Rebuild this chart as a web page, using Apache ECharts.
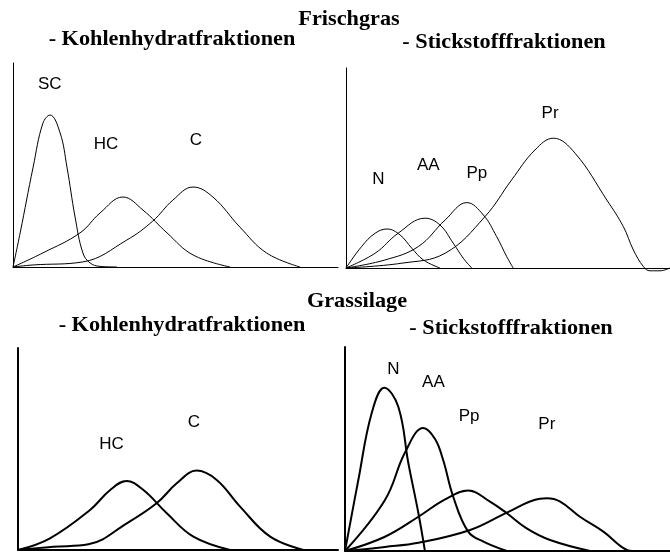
<!DOCTYPE html>
<html>
<head>
<meta charset="utf-8">
<script src="https://cdn.jsdelivr.net/npm/echarts@6/dist/echarts.min.js"></script>
<style>
  html, body { margin: 0; padding: 0; background: #fff; }
  #chart { width: 670px; height: 554px; }
</style>
</head>
<body>
<div id="chart"></div>
<script>
'use strict';

// Frischgras - Kohlenhydratfraktionen (x: time units 0-100, y: relative amount 0-100)
const fgSC = [[0,0],[2.2,16.7],[6.2,49],[9.2,70.5],[11.4,74.5],[14.5,65.7],[16.6,49],[19.1,24.5],[21.5,6.9],[23.7,2],[26.8,0.3],[32,0]];
const fgHC = [[0,0],[9.2,6.9],[20.6,16.7],[26.8,26.5],[33.8,34.3],[40,27.9],[47.4,16.7],[55.4,5.9],[66.8,0]];
const fgC = [[0,0],[6.2,1],[21.5,2.5],[35,13.2],[43,22.5],[49.2,32.8],[55.4,39.2],[61.5,34.3],[69.8,19.6],[78,6.9],[88.3,0]];

// Frischgras - Stickstofffraktionen
const fgN = [[0,0],[4.8,10.7],[9,17.4],[12.7,19.5],[16.7,16.5],[20.3,9.9],[23.9,4],[29,0]];
const fgAA = [[0,0],[9,7.4],[16.1,17.4],[24.4,24.9],[29,21.5],[33.1,12.4],[36.2,4.9],[38.8,0]];
const fgPp = [[0,0],[12,4],[22.3,10.7],[30.6,24],[37.3,32.7],[42.4,26.5],[46.5,15.7],[49.6,5.7],[51.6,0]];
const fgPr = [[0,0],[17.2,2.4],[30.6,7.4],[42.9,25.7],[51.1,44],[58.3,59],[64,64.9],[70.7,57.4],[80.5,34],[85.6,20.7],[88.7,9],[91.8,0.7],[93.8,-1.4],[96.9,-1.4],[100,0]];

// Grassilage - Kohlenhydratfraktionen
const gsHC = [[0,0],[10,5.8],[22.5,19.8],[28.8,29.7],[33.9,34.2],[39.2,29.7],[46.5,18.2],[54.8,6.6],[66.3,0]];
const gsC = [[0,0],[11,1.6],[22,2.8],[34,13.2],[43.3,23.1],[49.6,33],[55.8,39.3],[62.1,34.7],[69.4,21.5],[78.8,6.6],[89.2,0]];

// Grassilage - Stickstofffraktionen
const gsN = [[0,0],[4.1,34.8],[8.2,67.5],[12.1,80],[16.4,70.7],[19.5,43],[22.6,18.4],[24.6,0]];
const gsAA = [[0,0],[12.3,25],[18.5,48.4],[24.1,60.3],[27.7,54.9],[30.2,44.6],[33.3,26.6],[37.9,9.5],[42.6,4.6],[49.8,0]];
const gsPp = [[0,0],[12.3,7],[22.6,16.8],[30.8,25.3],[37.9,29.6],[44.6,24.2],[49.8,18.5],[55.9,11.1],[63.1,5.4],[75.4,0]];
const gsPr = [[0,0],[12.3,2],[22.6,4],[38.5,10.3],[49.8,18.8],[60,25.6],[62.1,25.8],[66.2,24.2],[72.3,16.8],[79.5,9.5],[86.7,0.5],[88.6,0]];

// curve labels and where they sit (data units of each panel)
const fgKhLabels = ['SC', 'HC', 'C'];
const fgKhLabelAt = [[11.3, 89.5], [28.6, 60], [56.3, 62]];
const fgStLabels = ['N', 'AA', 'Pp', 'Pr'];
const fgStLabelAt = [[10, 44.5], [25.4, 51.5], [40.4, 47.5], [63, 77.5]];
const gsKhLabels = ['HC', 'C'];
const gsKhLabelAt = [[29.2, 52.1], [55, 63.4]];
const gsStLabels = ['N', 'AA', 'Pp', 'Pr'];
const gsStLabelAt = [[14.9, 89.2], [27.2, 82.8], [38.2, 65.8], [62.1, 62.3]];

const grids = [
  { left: 13, top: 63, width: 325, height: 204 },
  { left: 346, top: 68, width: 324, height: 200 },
  { left: 18, top: 348, width: 320, height: 202 },
  { left: 345, top: 347, width: 325, height: 204 },
];
const lineW = [1, 1, 2, 2];
const axisW = [1, 1, 2, 2];

function axis(i) {
  return {
    type: 'value', gridIndex: i, min: 0, max: 100,
    axisLine: { show: true, onZero: false, lineStyle: { color: '#000', width: axisW[i] } },
    axisTick: { show: false }, axisLabel: { show: false }, splitLine: { show: false },
  };
}

function curve(i, data) {
  return {
    type: 'line', xAxisIndex: i, yAxisIndex: i, data: data,
    smooth: 0.4, symbol: 'none', clip: false, silent: true,
    lineStyle: { color: '#000', width: lineW[i] },
  };
}

function labels(i, names, at) {
  return {
    type: 'scatter', xAxisIndex: i, yAxisIndex: i, data: [], silent: true,
    markPoint: {
      symbol: 'circle', symbolSize: 0, silent: true,
      label: {
        show: true, position: 'inside', formatter: '{b}', color: '#000',
        fontFamily: 'Liberation Sans, Arial, sans-serif', fontSize: 17,
      },
      data: names.map((n, k) => ({ name: n, coord: at[k] })),
    },
  };
}

// titles are letter-spaced in the source, a slight horizontal stretch gets the width
function title(text, x, y) {
  return {
    type: 'text', x: x, y: y, scaleX: 1.06, silent: true,
    style: {
      text: text, fill: '#000', textAlign: 'center', textVerticalAlign: 'middle',
      font: 'bold 21px "Liberation Serif", "Times New Roman", serif',
    },
  };
}

const chart = echarts.init(document.getElementById('chart'));
chart.setOption({
  animation: false,
  backgroundColor: '#fff',
  grid: grids,
  xAxis: [0, 1, 2, 3].map(axis),
  yAxis: [0, 1, 2, 3].map(axis),
  graphic: [
    title('Frischgras', 349, 20),
    title('- Kohlenhydratfraktionen', 172, 40),
    title('- Stickstofffraktionen', 504, 43),
    title('Grassilage', 357, 302),
    title('- Kohlenhydratfraktionen', 182, 326),
    title('- Stickstofffraktionen', 511, 329),
  ],
  series: [
    curve(0, fgSC), curve(0, fgHC), curve(0, fgC),
    curve(1, fgN), curve(1, fgAA), curve(1, fgPp), curve(1, fgPr),
    curve(2, gsHC), curve(2, gsC),
    curve(3, gsN), curve(3, gsAA), curve(3, gsPp), curve(3, gsPr),
    labels(0, fgKhLabels, fgKhLabelAt),
    labels(1, fgStLabels, fgStLabelAt),
    labels(2, gsKhLabels, gsKhLabelAt),
    labels(3, gsStLabels, gsStLabelAt),
  ],
});
window.addEventListener('resize', () => chart.resize());
</script>
</body>
</html>
